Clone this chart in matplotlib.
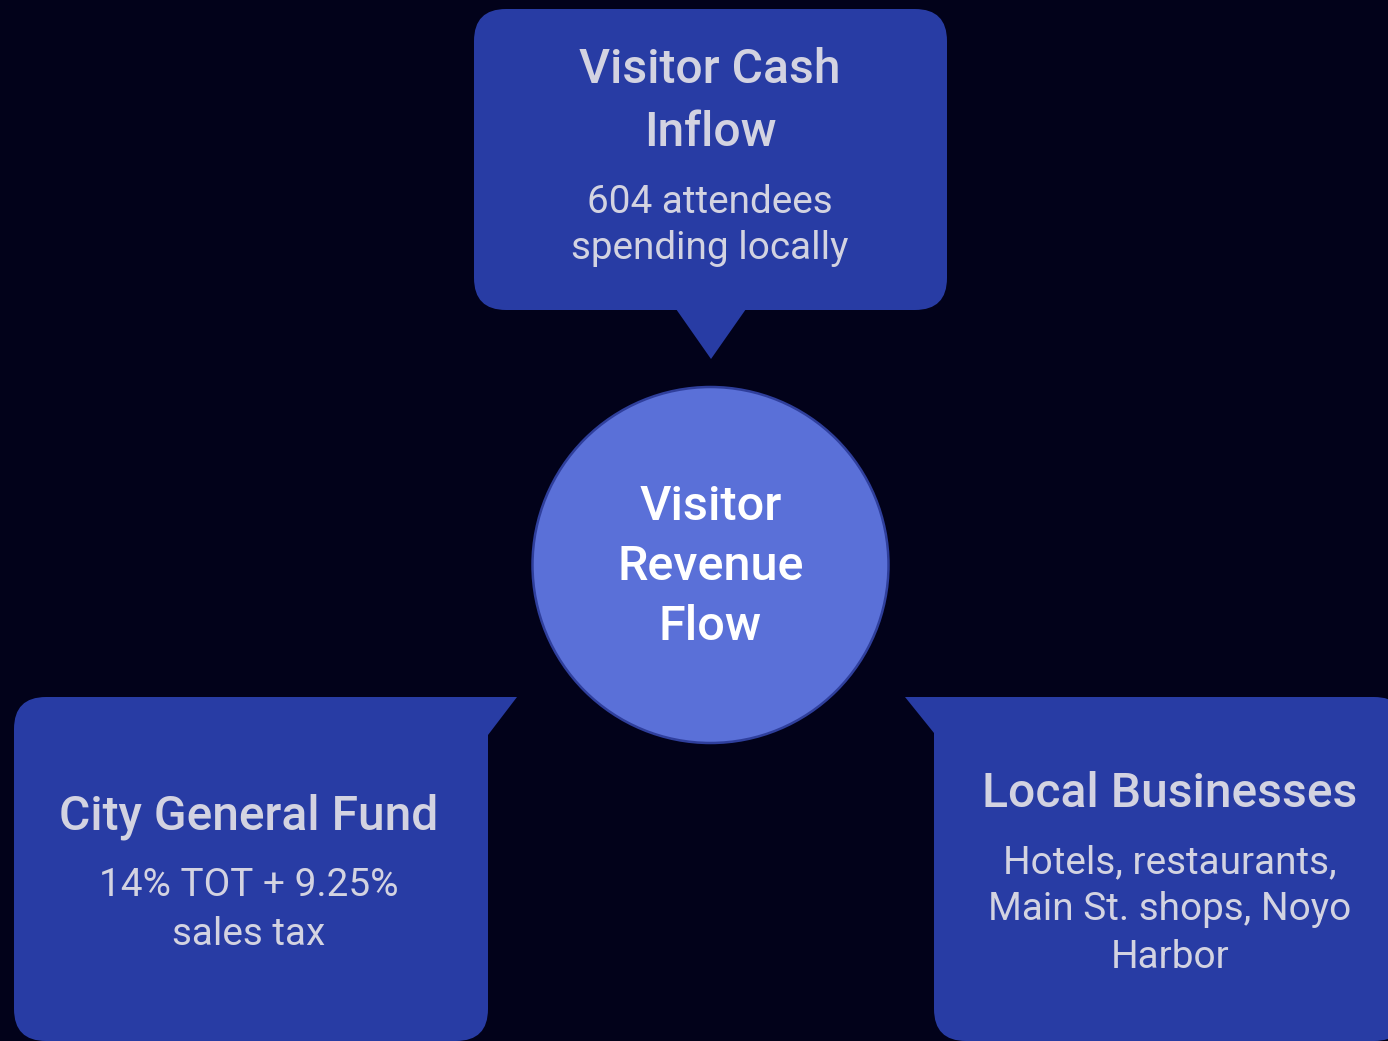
import matplotlib.pyplot as plt
from matplotlib.patches import FancyBboxPatch, Polygon, Circle

plt.rcParams['font.family'] = ['Roboto', 'DejaVu Sans']

# text content
center_lines = ["Visitor", "Revenue", "Flow"]
top_title = ["Visitor Cash", "Inflow"]
top_sub = ["604 attendees", "spending locally"]
left_title = ["City General Fund"]
left_sub = ["14% TOT + 9.25%", "sales tax"]
right_title = ["Local Businesses"]
right_sub = ["Hotels, restaurants,", "Main St. shops, Noyo", "Harbor"]

bg = '#02021a'
box_col = '#283ca4'
circ_col = '#5a70d8'
txt_col = '#d3d3e1'

W, H = 1388, 1041
fig = plt.figure(figsize=(W / 100, H / 100), dpi=100)
fig.patch.set_facecolor(bg)
ax = fig.add_axes([0, 0, 1, 1])
ax.set_xlim(0, W)
ax.set_ylim(H, 0)
ax.set_aspect('equal')
ax.axis('off')
ax.set_facecolor(bg)


def rbox(x0, y0, x1, y1, r=32):
    p = FancyBboxPatch((x0, y0), x1 - x0, y1 - y0,
                       boxstyle=f"round,pad=0,rounding_size={r}",
                       fc=box_col, ec='none', zorder=2)
    ax.add_patch(p)


def lines(x, ys, texts, size, weight, color):
    for y, t in zip(ys, texts):
        ax.text(x, y, t, ha='center', va='baseline', fontsize=size,
                fontweight=weight, color=color, zorder=5)


# top callout
rbox(474, 9, 947, 310)
ax.add_patch(Polygon([(676, 309), (746, 309), (711, 359)], closed=True,
                     fc=box_col, ec='none', zorder=2))
lines(710, [83, 146], top_title, 34.6, 'medium', txt_col)
lines(710, [213, 259], top_sub, 27.9, 'normal', txt_col)

# left callout
rbox(14, 697, 488, 1041)
ax.add_patch(Polygon([(450, 697), (517, 697), (488, 735), (450, 735)], closed=True,
                     fc=box_col, ec='none', zorder=2))
lines(249, [830], left_title, 34.6, 'medium', txt_col)
lines(249, [896, 945], left_sub, 27.9, 'normal', txt_col)

# right callout
rbox(934, 697, 1406, 1041)
ax.add_patch(Polygon([(905, 697), (975, 697), (975, 735), (934, 733)], closed=True,
                     fc=box_col, ec='none', zorder=2))
lines(1170, [807], right_title, 34.6, 'medium', txt_col)
lines(1170, [873, 920, 968], right_sub, 27.9, 'normal', txt_col)

# center circle
ax.add_patch(Circle((710.5, 565), 178, fc=circ_col, ec='#2f3f9c', lw=1.8, zorder=3))
lines(710.5, [520, 580, 640], center_lines, 35, 'medium', '#ffffff')

fig.savefig('out.png', dpi=100, facecolor=bg)
